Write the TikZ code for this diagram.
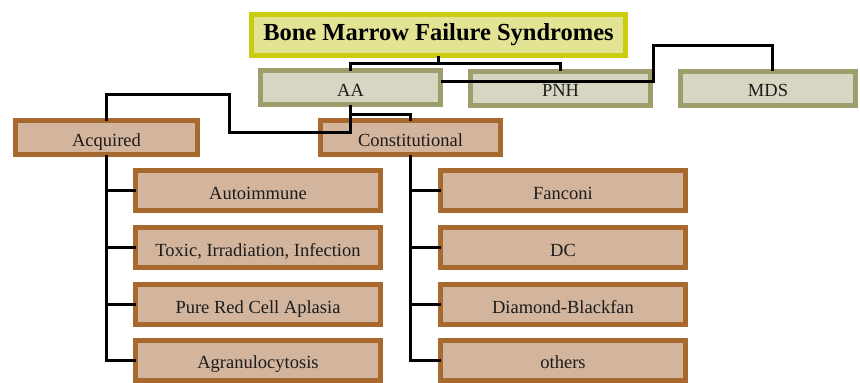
\documentclass[tikz,border=0pt]{standalone}
\usepackage{fontspec}
\setmainfont{Liberation Serif}
\definecolor{titlefill}{HTML}{E3E394}
\definecolor{titledraw}{HTML}{CBCB12}
\definecolor{greyfill}{HTML}{D6D6C2}
\definecolor{greydraw}{HTML}{9E9E6C}
\definecolor{tanfill}{HTML}{D3B49C}
\definecolor{tandraw}{HTML}{A8692E}
\definecolor{txt}{HTML}{1C1C1C}
\begin{document}
\begin{tikzpicture}[x=1pt,y=-1pt,
  boxbase/.style={line width=5pt,inner sep=0pt,outer sep=0pt,text=txt,font=\fontsize{18.5}{21}\selectfont},
  plainbox/.style={boxbase,text height=17.5pt,text depth=0pt},
  titlebox/.style={boxbase,fill=titlefill,draw=titledraw,minimum width=374pt,minimum height=41pt,font=\bfseries\fontsize{24.5}{28}\selectfont,text=black},
  greybox/.style={plainbox,fill=greyfill,draw=greydraw,minimum width=180pt,minimum height=34pt},
  tanbox/.style={plainbox,fill=tanfill,draw=tandraw,minimum width=182pt,minimum height=34pt},
  leafbox/.style={plainbox,fill=tanfill,draw=tandraw,minimum width=245pt,minimum height=40pt},
  link/.style={line width=3pt,black}]
\useasboundingbox (0,0) rectangle (860,383);
\node[titlebox] (title) at (438.5,35) {Bone Marrow Failure Syndromes};
\node[greybox] (AA) at (350.5,87.5) {AA};
\node[greybox] (PNH) at (560.5,88) {PNH};
\node[greybox,minimum width=175pt] (MDS) at (768,88) {MDS};
\node[tanbox] (Acq) at (106.5,137.5) {Acquired};
\node[tanbox,minimum width=180pt] (Con) at (410.5,137.5) {Constitutional};
\node[leafbox] (L1) at (258,190.5) {Autoimmune};
\node[leafbox] (L2) at (258,247.5) {Toxic, Irradiation, Infection};
\node[leafbox] (L3) at (258,304.5) {Pure Red Cell Aplasia};
\node[leafbox] (L4) at (258,360) {Agranulocytosis};
\node[leafbox] (R1) at (563,190.5) {Fanconi};
\node[leafbox] (R2) at (563,247.5) {DC};
\node[leafbox] (R3) at (563,304.5) {Diamond-Blackfan};
\node[leafbox] (R4) at (563,360) {others};
% connectors
\coordinate (tb) at (438.5,63);
\coordinate (c1) at (653,45);
\coordinate (k1) at (350.5,114);
\coordinate (k2) at (229,132);
\coordinate (k3) at (229,94);
\draw[link] (title.south) -- (tb);
\draw[link] (AA.north) |- (tb) -| (PNH.north);
\draw[link] ([yshift=6.5pt]AA.east) -| (c1) -| ([xshift=4pt]MDS.north);
\draw[link] (AA.south) -- (k1) -| (Con.north);
\draw[link] (AA.south) |- (k2) -- (k3) -| (Acq.north);
\draw[link] (Acq.south) |- (L4.west);
\foreach \n in {L1,L2,L3} \draw[link] (Acq.south |- \n.west) -- (\n.west);
\draw[link] (Con.south) |- (R4.west);
\foreach \n in {R1,R2,R3} \draw[link] (Con.south |- \n.west) -- (\n.west);
\end{tikzpicture}
\end{document}
